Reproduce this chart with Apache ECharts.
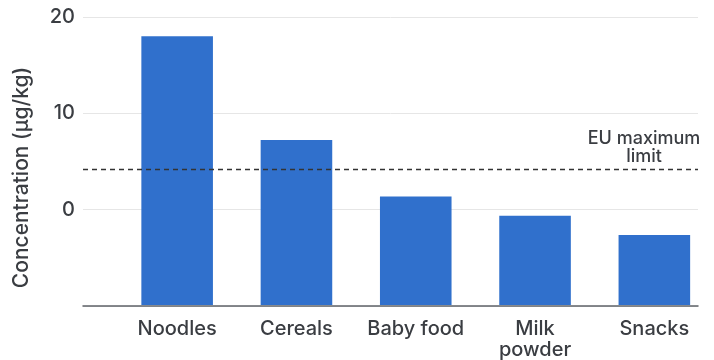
<!DOCTYPE html>
<html>
<head>
<meta charset="utf-8">
<script src="https://cdn.jsdelivr.net/npm/echarts@6/dist/echarts.min.js"></script>
<style>
  html, body { margin: 0; padding: 0; background: #ffffff; }
  #chart { width: 714px; height: 360px; }
</style>
</head>
<body>
<div id="chart"></div>
<script>
// Concentration per food category (µg/kg)
const categories = ['Noodles', 'Cereals', 'Baby food', 'Milk\npowder', 'Snacks'];
const concentrations = [18.0, 7.2, 1.3, -0.7, -2.7];
const euLimit = 4.2;
const yMin = -10;
const yMax = 20;
const yStep = 10;
const yAxisTitle = 'Concentration (μg/kg)';
const limitLabel = ['EU maximum', 'limit'];

const FONT = 'Inter, "Noto Sans", sans-serif';
const TEXT = '#3a3d42';
const BAR = '#3070cc';

const chart = echarts.init(document.getElementById('chart'), null, { renderer: 'canvas' });

// Bars rise from the bottom of the value axis rather than from zero.
function renderBar(params, api) {
  const idx = api.value(0);
  const top = api.coord([idx, api.value(1)]);
  const base = api.coord([idx, yMin]);
  const w = api.size([1, 0])[0] * 0.6;
  return {
    type: 'rect',
    shape: { x: top[0] - w / 2, y: top[1], width: w, height: base[1] - top[1] },
    style: { fill: BAR }
  };
}

chart.setOption({
  animation: false,
  backgroundColor: '#ffffff',
  grid: [
    { left: 83, right: 16, top: 17, bottom: 54 },
    { left: 117.5, width: 605, top: 17, bottom: 54 }
  ],
  xAxis: [
    {
      gridIndex: 0, type: 'value', min: 0, max: 1,
      axisLine: { show: true, onZero: false, lineStyle: { color: '#5f6368', width: 1.5 } },
      axisTick: { show: false }, axisLabel: { show: false }, splitLine: { show: false }
    },
    {
      gridIndex: 1, type: 'category', data: categories,
      axisLine: { show: false }, axisTick: { show: false },
      axisLabel: {
        margin: 13, color: TEXT, fontFamily: FONT, fontSize: 20, fontWeight: 500,
        lineHeight: 21, interval: 0
      }
    }
  ],
  yAxis: [
    {
      gridIndex: 0, type: 'value', min: yMin, max: yMax, interval: yStep,
      name: yAxisTitle, nameLocation: 'middle', nameGap: 51,
      nameTextStyle: {
        color: TEXT, fontFamily: FONT, fontSize: 21, fontWeight: 500,
        padding: [0, 32, 0, 0]
      },
      axisLine: { show: false }, axisTick: { show: false },
      axisLabel: {
        margin: 8, color: TEXT, fontFamily: FONT, fontSize: 20, fontWeight: 500,
        formatter: v => (v === yMin ? '' : String(v))
      },
      splitLine: { show: true, lineStyle: { color: '#e6e6e6', width: 1 } }
    },
    {
      gridIndex: 1, type: 'value', min: yMin, max: yMax, interval: yStep, show: false
    }
  ],
  series: [
    {
      type: 'custom',
      xAxisIndex: 1, yAxisIndex: 1,
      renderItem: renderBar,
      encode: { x: 0, y: 1 },
      data: concentrations.map((v, i) => [i, v]),
      silent: true
    },
    {
      type: 'line',
      xAxisIndex: 0, yAxisIndex: 0,
      data: [],
      markLine: {
        silent: true,
        symbol: 'none',
        lineStyle: { color: '#333333', type: [5, 4], width: 1.3 },
        label: {
          position: 'insideEndTop',
          distance: [-4, 4],
          fontSize: 18, fontFamily: FONT, fontWeight: 500, color: TEXT,
          formatter: limitLabel.map(s => '{t|' + s + '}').join('\n'),
          rich: {
            t: {
              width: 116, align: 'center', fontSize: 18, fontWeight: 500,
              lineHeight: 18, color: TEXT, fontFamily: FONT
            }
          }
        },
        data: [{ yAxis: euLimit }]
      }
    }
  ]
});
</script>
</body>
</html>
